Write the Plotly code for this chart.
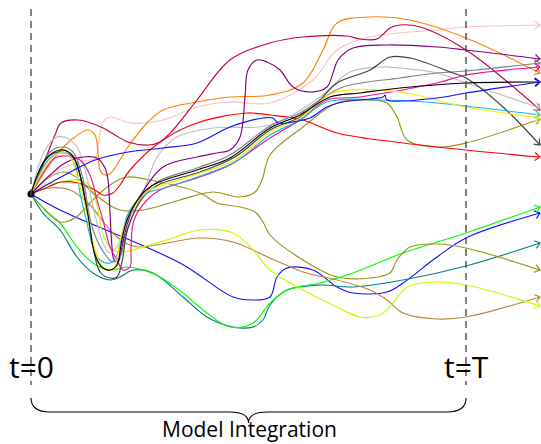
import math
import plotly.graph_objects as go

# ---------------- data (pixel-space readings of each trajectory) ----------------
pink_x = [31, 55, 80, 95, 99, 103, 111, 121, 130, 163, 197, 230, 270, 313, 337, 370, 437, 466, 540]
pink_y = [194, 172, 162, 158, 140, 122, 117, 120, 123, 120, 107, 102, 103, 80, 50, 37, 30, 27, 25]

orange_x = [31, 55, 71, 88, 95, 98, 100, 105, 111, 118, 128, 147, 163, 197, 230, 270, 303, 323, 337, 370, 410, 466, 540]
orange_y = [194, 157, 140, 130, 135, 153, 170, 175, 173, 163, 147, 123, 110, 102, 97, 95, 83, 50, 23, 17, 20, 38, 73]

crimson_x = [31, 45, 55, 61, 78, 101, 115, 128, 148, 160, 173, 197, 230, 270, 303, 347, 360, 377, 390, 400, 420, 466, 540]
crimson_y = [194, 160, 135, 123, 120, 127, 135, 142, 145, 142, 130, 100, 60, 43, 37, 36, 39, 39, 28, 25, 27, 50, 110]

purple_x = [31, 50, 65, 83, 97, 105, 108, 110, 112, 114, 118, 122, 127, 135, 163, 197, 217, 230, 240, 245, 248, 257, 267, 280, 293, 310, 327, 333, 338, 353, 387, 437, 466, 540]
purple_y = [194, 175, 163, 157, 158, 168, 180, 213, 247, 260, 262, 247, 225, 205, 167, 157, 153, 150, 137, 97, 70, 60, 62, 70, 87, 92, 87, 73, 60, 48, 45, 47, 50, 59]

red_x = [31, 48, 61, 78, 95, 103, 113, 120, 130, 163, 197, 247, 270, 303, 337, 403, 466, 540]
red_y = [194, 187, 182, 183, 190, 195, 193, 185, 170, 140, 123, 113, 115, 120, 133, 143, 150, 157]

blue1_x = [31, 61, 95, 128, 163, 197, 230, 263, 273, 278, 293, 310, 327, 343, 370, 383, 385, 387, 437, 466, 540]
blue1_y = [194, 177, 160, 152, 148, 143, 127, 118, 118, 123, 122, 118, 107, 102, 99, 97, 95, 100, 98, 93, 82]

silver_x = [31, 45, 57, 67, 77, 85, 95, 103, 110, 118, 125, 135, 143, 157, 177, 213, 270, 320, 350, 380, 400, 437, 466, 540]
silver_y = [194, 150, 137, 138, 147, 170, 215, 243, 253, 245, 225, 205, 193, 157, 137, 128, 125, 97, 72, 67, 68, 73, 83, 108]

gray_x = [31, 50, 62, 73, 82, 93, 107, 113, 120, 127, 140, 157, 197, 230, 270, 300, 320, 343, 400, 437, 466, 540]
gray_y = [194, 152, 147, 152, 175, 230, 257, 262, 257, 230, 200, 182, 168, 155, 126, 113, 100, 87, 78, 73, 71, 63]

darkgray_x = [31, 48, 62, 75, 83, 92, 100, 110, 117, 122, 128, 145, 160, 200, 235, 270, 300, 320, 337, 370, 390, 410, 453, 466, 503, 540]
darkgray_y = [194, 157, 152, 160, 190, 240, 272, 278, 277, 262, 228, 195, 184, 172, 157, 130, 117, 100, 83, 70, 57, 58, 73, 78, 107, 145]

black_x = [31, 45, 60, 72, 80, 88, 95, 103, 110, 117, 121, 127, 143, 157, 197, 230, 270, 300, 330, 360, 400, 466, 540]
black_y = [194, 160, 150, 155, 175, 215, 255, 268, 270, 265, 245, 220, 193, 183, 170, 158, 128, 115, 97, 93, 88, 83, 82]

yellow_x = [31, 50, 63, 72, 78, 85, 93, 103, 113, 117, 120, 127, 145, 160, 200, 235, 270, 300, 333, 400, 466, 540]
yellow_y = [194, 160, 152, 160, 180, 205, 243, 267, 270, 260, 240, 220, 193, 186, 173, 160, 132, 118, 93, 92, 107, 118]

skyblue_x = [31, 50, 65, 75, 80, 87, 93, 100, 110, 117, 123, 130, 147, 165, 200, 235, 270, 300, 327, 383, 437, 466, 540]
skyblue_y = [194, 158, 153, 165, 193, 223, 247, 260, 263, 255, 230, 210, 193, 188, 176, 162, 135, 120, 102, 100, 103, 106, 115]

deeppink_x = [31, 55, 67, 80, 90, 97, 103, 110, 117, 123, 130, 131, 134, 147, 160, 197, 230, 270, 300, 327, 360, 437, 466, 540]
deeppink_y = [194, 158, 156, 160, 175, 200, 220, 247, 260, 270, 267, 247, 220, 200, 190, 178, 165, 138, 120, 100, 97, 83, 75, 67]

oliveb_x = [31, 48, 65, 80, 93, 120, 143, 180, 213, 240, 255, 262, 270, 303, 337, 370, 387, 397, 407, 437, 466, 540]
oliveb_y = [194, 178, 172, 180, 193, 210, 210, 200, 192, 197, 192, 180, 155, 127, 103, 100, 103, 117, 140, 147, 143, 119]

olivea_x = [31, 45, 60, 75, 90, 100, 113, 127, 150, 200, 217, 240, 255, 263, 270, 303, 337, 370, 390, 397, 410, 437, 466, 540]
olivea_y = [194, 210, 222, 218, 203, 193, 183, 177, 180, 193, 203, 207, 212, 222, 235, 260, 277, 278, 273, 260, 247, 244, 248, 270]

lime_x = [31, 45, 61, 78, 90, 97, 103, 113, 123, 143, 167, 200, 233, 253, 270, 303, 337, 360, 380, 393, 407, 437, 466, 540]
lime_y = [194, 185, 182, 180, 186, 205, 235, 250, 252, 247, 240, 230, 233, 250, 270, 290, 307, 317, 315, 303, 287, 282, 285, 306]

brown_x = [31, 50, 70, 90, 110, 125, 140, 167, 200, 233, 270, 303, 337, 370, 387, 403, 437, 466, 540]
brown_y = [194, 188, 190, 205, 230, 243, 247, 243, 238, 242, 258, 272, 280, 290, 300, 313, 319, 317, 297]

green_x = [31, 45, 60, 77, 93, 110, 127, 143, 160, 183, 207, 230, 253, 270, 287, 320, 353, 403, 466, 540]
green_y = [194, 210, 223, 247, 263, 270, 267, 270, 277, 293, 313, 327, 323, 303, 290, 283, 273, 253, 233, 207]

teal_x = [31, 43, 60, 77, 93, 110, 120, 133, 153, 183, 207, 233, 253, 263, 270, 287, 320, 353, 403, 466, 540]
teal_y = [194, 213, 230, 257, 273, 280, 277, 270, 273, 297, 317, 327, 327, 320, 305, 290, 285, 287, 280, 266, 243]

blue2_x = [31, 60, 180, 233, 253, 270, 277, 287, 313, 337, 353, 387, 403, 437, 466, 540]
blue2_y = [194, 210, 263, 297, 300, 297, 277, 268, 270, 287, 293, 292, 283, 257, 238, 213]

labels = ["t=0", "t=T", "Model Integration"]
T0_X, T_X = 31, 466

series = [
    (blue2_x, blue2_y, "#1010FF"),
    (teal_x, teal_y, "#008080"),
    (green_x, green_y, "#00FF00"),
    (brown_x, brown_y, "#BF8040"),
    (lime_x, lime_y, "#BFFF00"),
    (olivea_x, olivea_y, "#9C9418"),
    (oliveb_x, oliveb_y, "#9C9418"),
    (red_x, red_y, "#FF0000"),
    (pink_x, pink_y, "#FFBFBF"),
    (orange_x, orange_y, "#FF8000"),
    (crimson_x, crimson_y, "#BF0040"),
    (silver_x, silver_y, "#BFBFBF"),
    (purple_x, purple_y, "#800080"),
    (gray_x, gray_y, "#808080"),
    (darkgray_x, darkgray_y, "#404040"),
    (deeppink_x, deeppink_y, "#F0148C"),
    (skyblue_x, skyblue_y, "#10B8F0"),
    (yellow_x, yellow_y, "#FFE800"),
    (black_x, black_y, "#000000"),
    (blue1_x, blue1_y, "#1010FF"),
]

fig = go.Figure()

for xs, ys, col in series:
    fig.add_trace(go.Scatter(
        x=xs, y=ys, mode="lines",
        line=dict(color=col, width=1.15, shape="spline", smoothing=1.0),
        hoverinfo="skip", showlegend=False))
    # open arrowhead at the end, oriented along the final segment
    dx, dy = xs[-1] - xs[-2], ys[-1] - ys[-2]
    n = math.hypot(dx, dy)
    ux, uy = dx / n, dy / n
    L, a = 6.5, math.radians(38)
    ax, ay = [], []
    for s in (1, -1):
        rx = -ux * math.cos(a) - s * (-uy) * math.sin(a)
        ry = -uy * math.cos(a) + s * (-ux) * math.sin(a)
        ax.append(xs[-1] + L * rx)
        ay.append(ys[-1] + L * ry)
    fig.add_trace(go.Scatter(
        x=[ax[0], xs[-1], ax[1]], y=[ay[0], ys[-1], ay[1]], mode="lines",
        line=dict(color=col, width=1.15), hoverinfo="skip", showlegend=False))

# starting point
fig.add_trace(go.Scatter(x=[blue2_x[0]], y=[blue2_y[0]], mode="markers",
                         marker=dict(color="black", size=7), hoverinfo="skip", showlegend=False))

shapes = []
for xv in (T0_X, T_X):
    shapes.append(dict(type="line", x0=xv, x1=xv, y0=9, y1=385, xref="x", yref="y",
                       line=dict(color="#4a4a4a", width=1.4, dash="7px,5px")))

mid = (T0_X + T_X) / 2
brace = (f"M {T0_X},398 Q {T0_X},412 {T0_X+19},412 L {mid-19},412 "
         f"Q {mid},412 {mid},423 Q {mid},412 {mid+19},412 "
         f"L {T_X-19},412 Q {T_X},412 {T_X},398")
shapes.append(dict(type="path", path=brace, xref="x", yref="y",
                   line=dict(color="black", width=1.1)))

annotations = [
    dict(x=T0_X, y=366, text=labels[0], showarrow=False, xref="x", yref="y",
         font=dict(family="Open Sans", size=30, color="black")),
    dict(x=T_X, y=366, text=labels[1], showarrow=False, xref="x", yref="y",
         font=dict(family="Open Sans", size=30, color="black")),
    dict(x=mid + 1, y=429, text=labels[2], showarrow=False, xref="x", yref="y",
         font=dict(family="Open Sans", size=21, color="black")),
]

fig.update_layout(
    width=541, height=444, autosize=False,
    margin=dict(l=0, r=0, t=0, b=0),
    paper_bgcolor="white", plot_bgcolor="white",
    xaxis=dict(range=[0, 541], visible=False, fixedrange=True),
    yaxis=dict(range=[444, 0], visible=False, fixedrange=True),
    shapes=shapes, annotations=annotations,
)

fig.write_html("out.html")
